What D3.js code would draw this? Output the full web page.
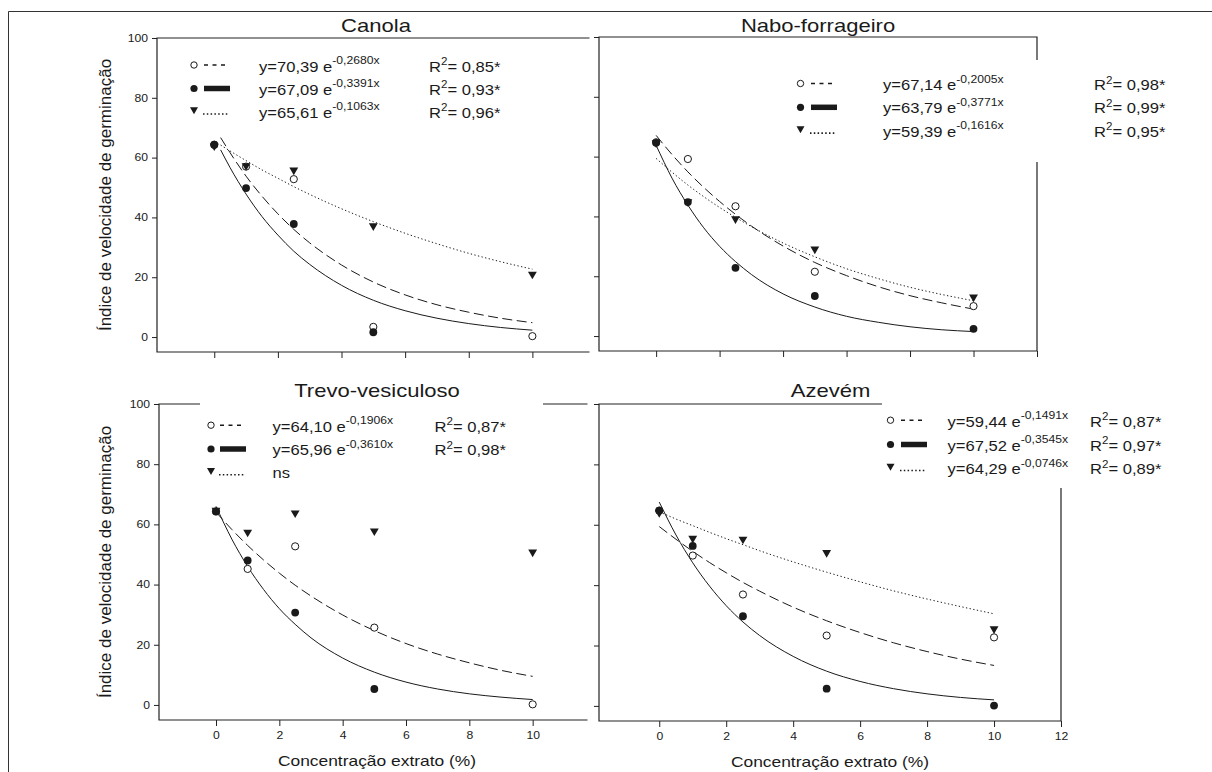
<!DOCTYPE html>
<html>
<head>
<meta charset="utf-8">
<script src="https://cdn.jsdelivr.net/npm/d3@7"></script>
<style>
  body { margin: 0; background: #fff; }
  svg { display: block; font-family: "Liberation Sans", Arial, sans-serif; }
</style>
</head>
<body>
<div id="chart"></div>
<script>
// Doses of extract (%) where seeds were measured
var doses = [0, 1, 2.5, 5, 10];
// x positions of the points
var curveX = [0, 0.5, 1, 1.5, 2, 2.5, 3, 4, 5, 6, 7, 8, 9, 10];
var canolaCurveX = [0.2, 0.5, 1, 1.5, 2, 2.5, 3, 4, 5, 6, 7, 8, 9, 10];

var yTicks = [0, 20, 40, 60, 80, 100];
var xTicks = [0, 2, 4, 6, 8, 10];
var xTicksWide = [0, 2, 4, 6, 8, 10, 12];

// Canola
var canolaOpen = [64.3, 57.0, 52.8, 3.4, 0.3];
var canolaFilled = [64.3, 49.8, 37.8, 1.6, null];
var canolaTri = [63.9, 57.3, 55.8, 37.2, 21.0];
var canolaDashed = [66.7, 61.6, 53.8, 47.1, 41.2, 36.0, 31.5, 24.1, 18.4, 14.1, 10.8, 8.3, 6.3, 4.8];
var canolaSolid = [62.6, 56.6, 47.8, 40.3, 34.1, 28.7, 24.3, 17.3, 12.3, 8.8, 6.3, 4.5, 3.2, 2.3];
var canolaDotted = [64.2, 62.2, 59.0, 55.9, 53.1, 50.3, 47.7, 42.9, 38.6, 34.7, 31.2, 28.0, 25.2, 22.7];
var canolaEq = ["y=70,39 e", "y=67,09 e", "y=65,61 e"];
var canolaExp = ["-0,2680x", "-0,3391x", "-0,1063x"];
var canolaR2 = ["0,85*", "0,93*", "0,96*"];

// Nabo-forrageiro
var naboOpen = [64.8, 59.2, 43.4, 21.5, 10.0];
var naboFilled = [64.6, 44.8, 22.8, 13.4, 2.4];
var naboTri = [64.6, 44.9, 39.2, 29.1, 13.0];
var naboDashed = [67.1, 60.7, 54.9, 49.7, 45.0, 40.7, 36.8, 30.1, 24.6, 20.2, 16.5, 13.5, 11.1, 9.0];
var naboSolid = [63.8, 52.8, 43.8, 36.2, 30.0, 24.9, 20.6, 14.1, 9.7, 6.6, 4.6, 3.1, 2.1, 1.5];
var naboDotted = [59.4, 54.8, 50.5, 46.6, 43.0, 39.7, 36.6, 31.1, 26.5, 22.5, 19.2, 16.3, 13.9, 11.8];
var naboEq = ["y=67,14 e", "y=63,79 e", "y=59,39 e"];
var naboExp = ["-0,2005x", "-0,3771x", "-0,1616x"];
var naboR2 = ["0,98*", "0,99*", "0,95*"];

// Trevo-vesiculoso
var trevoOpen = [64.3, 45.2, 52.7, 25.7, 0.2];
var trevoFilled = [64.3, 48.0, 30.7, 5.3, null];
var trevoTri = [64.7, 57.4, 63.8, 57.8, 50.8];
var trevoDashed = [64.1, 58.3, 53.0, 48.2, 43.8, 39.8, 36.2, 29.9, 24.7, 20.4, 16.9, 14.0, 11.5, 9.5];
var trevoSolid = [66.0, 55.1, 46.0, 38.4, 32.0, 26.8, 22.3, 15.6, 10.9, 7.6, 5.3, 3.7, 2.6, 1.8];
var trevoEq = ["y=64,10 e", "y=65,96 e", "ns"];
var trevoExp = ["-0,1906x", "-0,3610x", null];
var trevoR2 = ["0,87*", "0,98*", null];

// Azevém
var azevemOpen = [64.7, 49.8, 36.9, 23.3, 22.7];
var azevemFilled = [64.7, 53.0, 29.7, 5.7, 0.1];
var azevemTri = [64.0, 55.5, 55.2, 50.8, 25.5];
var azevemDashed = [59.4, 55.2, 51.2, 47.5, 44.1, 40.9, 38.0, 32.7, 28.2, 24.3, 20.9, 18.0, 15.5, 13.4];
var azevemSolid = [67.5, 56.6, 47.4, 39.7, 33.2, 27.8, 23.3, 16.4, 11.5, 8.1, 5.7, 4.0, 2.8, 2.0];
var azevemDotted = [64.3, 61.9, 59.7, 57.5, 55.4, 53.4, 51.4, 47.7, 44.3, 41.1, 38.1, 35.4, 32.9, 30.5];
var azevemEq = ["y=59,44 e", "y=67,52 e", "y=64,29 e"];
var azevemExp = ["-0,1491x", "-0,3545x", "-0,0746x"];
var azevemR2 = ["0,87*", "0,97*", "0,89*"];

var yLabel = "Índice de velocidade de germinação";
var xLabel = "Concentração extrato (%)";

// text in the source is a little wider than it is tall
var SX = 1.16;
var ink = "#1a1a1a";

var svg = d3.select("#chart").append("svg")
    .attr("width", 1212)
    .attr("height", 772);

svg.append("rect").attr("width", 1212).attr("height", 772).attr("fill", "#fff");

// outer border (only top and left are inside the picture)
svg.append("path")
    .attr("d", "M8.5,772V11.5H1212")
    .attr("fill", "none")
    .attr("stroke", "#333")
    .attr("stroke-width", 1);

function stretchText(g, x, y, size, anchor) {
    return g.append("text")
        .attr("transform", "translate(" + x + "," + y + ") scale(" + SX + ",1)")
        .attr("font-size", size + "px")
        .attr("font-weight", "normal")
        .attr("text-anchor", anchor || "start")
        .attr("fill", ink);
}

var panels = [
    {
        title: "Canola", titleX: 376, titleY: 32,
        open: canolaOpen, filled: canolaFilled, tri: canolaTri,
        cx: canolaCurveX, dashed: canolaDashed, solid: canolaSolid, dotted: canolaDotted,
        eq: canolaEq, exp: canolaExp, r2: canolaR2,
        x0: 157, x1: 596, y0: 352, y1: 38, frameRight: 589.5, left: true,
        ticks: xTicks, xLabels: false,
        leg: { mx: 194, lx0: 204, lx1: 228, tx: 259, rx: 429, by: [71.5, 94.5, 117.5] },
        bg: null
    },
    {
        title: "Nabo-forrageiro", titleX: 818, titleY: 31.5,
        open: naboOpen, filled: naboFilled, tri: naboTri,
        cx: curveX, dashed: naboDashed, solid: naboSolid, dotted: naboDotted,
        eq: naboEq, exp: naboExp, r2: naboR2,
        x0: 599, x1: 1037, y0: 351, y1: 37, left: false,
        ticks: xTicksWide, xLabels: false,
        leg: { mx: 800.5, lx0: 811, lx1: 835, tx: 883, rx: 1094, by: [90, 113.3, 136.6] },
        bg: [775, 60, 430, 102]
    },
    {
        title: "Trevo-vesiculoso", titleX: 377, titleY: 397,
        open: trevoOpen, filled: trevoFilled, tri: trevoTri,
        cx: curveX, dashed: trevoDashed, solid: trevoSolid, dotted: null,
        eq: trevoEq, exp: trevoExp, r2: trevoR2,
        x0: 159, x1: 596, y0: 720, y1: 404, frameRight: 587.5, left: true,
        ticks: xTicks, xLabels: true, xLabelX: 377, xLabelY: 766,
        leg: { mx: 211, lx0: 220, lx1: 244, tx: 272.5, rx: 434.5, by: [431.7, 455, 478.3] },
        bg: [200, 398, 343, 92]
    },
    {
        title: "Azevém", titleX: 830.5, titleY: 396.5,
        open: azevemOpen, filled: azevemFilled, tri: azevemTri,
        cx: curveX, dashed: azevemDashed, solid: azevemSolid, dotted: azevemDotted,
        eq: azevemEq, exp: azevemExp, r2: azevemR2,
        x0: 599, x1: 1061, y0: 721, y1: 404, left: false,
        ticks: xTicksWide, xLabels: true, xLabelX: 830, xLabelY: 767,
        leg: { mx: 890.5, lx0: 901, lx1: 925, tx: 947.5, rx: 1090, by: [426.7, 450.5, 474] },
        bg: [882, 397, 323, 91]
    }
];

panels.forEach(function (p) {
    var x = d3.scaleLinear().domain([-1.8, 12]).range([p.x0, p.x1]);
    var y = d3.scaleLinear().domain([-5, 100]).range([p.y0, p.y1]);
    var g = svg.append("g");

    // frame
    var frame;
    if (p.left) {
        frame = "M" + p.frameRight + "," + p.y1 + "H" + p.x0 + "V" + p.y0 + "H" + p.frameRight;
    } else {
        g.append("rect")
            .attr("x", p.x0 - 9).attr("y", p.y1 - 1)
            .attr("width", p.x1 - p.x0 + 9).attr("height", p.y0 - p.y1 + 2)
            .attr("fill", "#fff");
        frame = "M" + p.x0 + "," + p.y1 + "H" + p.x1 + "V" + p.y0 + "H" + p.x0 + "Z";
    }
    g.append("path")
        .attr("d", frame)
        .attr("fill", "none")
        .attr("stroke", "#222")
        .attr("stroke-width", 1.2);

    // y axis
    var ya = g.append("g")
        .attr("transform", "translate(" + p.x0 + ",0)")
        .call(d3.axisLeft(y)
            .tickValues(yTicks)
            .tickSize(5)
            .tickPadding(4)
            .tickFormat(p.left ? d3.format("d") : function () { return ""; }));
    ya.select(".domain").remove();

    // x axis
    var xa = g.append("g")
        .attr("transform", "translate(0," + p.y0 + ")")
        .call(d3.axisBottom(x)
            .tickValues(p.ticks)
            .tickSize(6)
            .tickPadding(6)
            .tickFormat(p.xLabels ? d3.format("d") : function () { return ""; }));
    xa.select(".domain").remove();

    [ya, xa].forEach(function (a) {
        a.selectAll("line").attr("stroke", "#222");
        a.selectAll("text")
            .attr("font-size", "10.5px")
            .attr("font-family", "'Liberation Sans', Arial, sans-serif")
            .attr("fill", ink)
            .attr("x", function () { return +d3.select(this).attr("x") / SX; })
            .attr("transform", "scale(" + SX + ",1)");
    });

    // title
    stretchText(g, p.titleX, p.titleY, 19, "middle").text(p.title);

    // axis labels
    if (p.left) {
        g.append("text")
            .attr("transform", "translate(111," + ((p.y0 + p.y1) / 2) + ") rotate(-90)")
            .attr("text-anchor", "middle")
            .attr("font-size", "17px")
            .attr("fill", ink)
            .text(yLabel);
    }
    if (p.xLabels) {
        stretchText(g, p.xLabelX, p.xLabelY, 15, "middle").text(xLabel);
    }

    // fitted curves
    var line = d3.line()
        .x(function (d) { return x(d[0]); })
        .y(function (d) { return y(d[1]); })
        .curve(d3.curveMonotoneX);

    var curves = [
        { vals: p.dashed, dash: "10,4.5" },
        { vals: p.solid, dash: null },
        { vals: p.dotted, dash: "1.3,2.4" }
    ];
    curves.forEach(function (c) {
        if (!c.vals) return;
        g.append("path")
            .datum(d3.zip(p.cx, c.vals))
            .attr("d", line)
            .attr("fill", "none")
            .attr("stroke", ink)
            .attr("stroke-width", 1)
            .attr("stroke-dasharray", c.dash);
    });

    // points
    var tri = d3.symbol().type(d3.symbolTriangle).size(34);
    g.selectAll(".open")
        .data(d3.zip(doses, p.open).filter(function (d) { return d[1] != null; }))
        .enter().append("circle")
        .attr("cx", function (d) { return x(d[0]); })
        .attr("cy", function (d) { return y(d[1]); })
        .attr("r", 3.6)
        .attr("fill", "#fff")
        .attr("stroke", ink)
        .attr("stroke-width", 1);
    g.selectAll(".filled")
        .data(d3.zip(doses, p.filled).filter(function (d) { return d[1] != null; }))
        .enter().append("circle")
        .attr("cx", function (d) { return x(d[0]); })
        .attr("cy", function (d) { return y(d[1]); })
        .attr("r", 3.9)
        .attr("fill", ink);
    g.selectAll(".tri")
        .data(d3.zip(doses, p.tri).filter(function (d) { return d[1] != null; }))
        .enter().append("path")
        .attr("d", tri)
        .attr("transform", function (d) {
            return "translate(" + x(d[0]) + "," + y(d[1]) + ") rotate(180)";
        })
        .attr("fill", ink);

    // legend
    if (p.bg) {
        g.append("rect")
            .attr("x", p.bg[0]).attr("y", p.bg[1])
            .attr("width", p.bg[2]).attr("height", p.bg[3])
            .attr("fill", "#fff");
    }
    var L = p.leg;
    var lg = g.append("g");
    // markers
    lg.append("circle").attr("cx", L.mx).attr("cy", L.by[0] - 6.5).attr("r", 3.2)
        .attr("fill", "#fff").attr("stroke", ink).attr("stroke-width", 1);
    lg.append("circle").attr("cx", L.mx).attr("cy", L.by[1] - 6).attr("r", 3.6)
        .attr("fill", ink);
    lg.append("path").attr("d", d3.symbol().type(d3.symbolTriangle).size(28))
        .attr("transform", "translate(" + L.mx + "," + (L.by[2] - 8) + ") rotate(180)")
        .attr("fill", ink);
    // line samples
    lg.append("line").attr("x1", L.lx0).attr("x2", L.lx1)
        .attr("y1", L.by[0] - 6.5).attr("y2", L.by[0] - 6.5)
        .attr("stroke", ink).attr("stroke-width", 1.6).attr("stroke-dasharray", "4,4.5");
    lg.append("line").attr("x1", L.lx0).attr("x2", L.lx1 + 2)
        .attr("y1", L.by[1] - 6).attr("y2", L.by[1] - 6)
        .attr("stroke", ink).attr("stroke-width", 5.5);
    lg.append("line").attr("x1", L.lx0 - 1).attr("x2", L.lx1)
        .attr("y1", L.by[2] - 3.5).attr("y2", L.by[2] - 3.5)
        .attr("stroke", ink).attr("stroke-width", 1.6).attr("stroke-dasharray", "1.5,2.3");

    // equations and R2
    p.eq.forEach(function (e, i) {
        var t = stretchText(lg, L.tx, L.by[i], 14.3);
        t.append("tspan").text(e);
        if (p.exp[i]) {
            t.append("tspan").attr("dy", -7.5).attr("font-size", "10.5px").text(p.exp[i]);
        }
        if (p.r2[i]) {
            var r = stretchText(lg, L.rx, L.by[i], 14.3);
            r.append("tspan").text("R");
            r.append("tspan").attr("dy", -6.5).attr("font-size", "10px").text("2");
            r.append("tspan").attr("dy", 6.5).text("= " + p.r2[i]);
        }
    });
});
</script>
</body>
</html>
